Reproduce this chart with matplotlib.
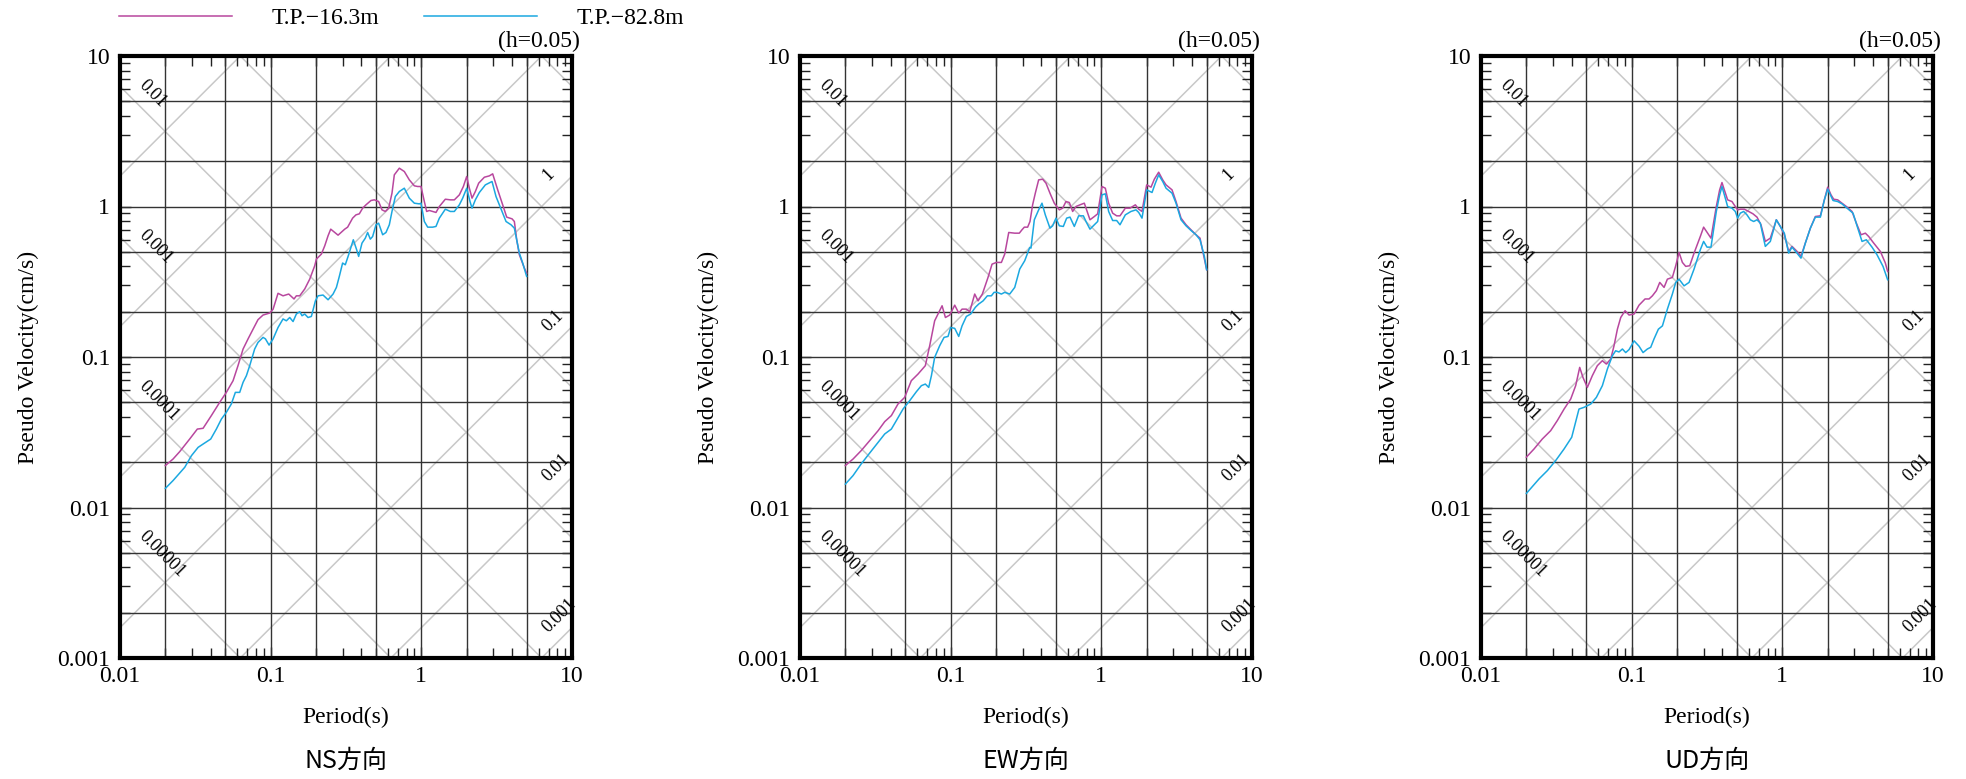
import numpy as np
import matplotlib
matplotlib.use("Agg")
import matplotlib.pyplot as plt
from matplotlib.ticker import FixedLocator, FixedFormatter, NullFormatter

SERIF = ["Liberation Serif", "DejaVu Serif"]
CJK = ["Noto Sans CJK JP", "DejaVu Sans"]

panel_titles = ["NS方向", "EW方向", "UD方向"]
series_labels = ["T.P.\u221216.3m", "T.P.\u221282.8m"]
series_colors = ["#b8479e", "#1ba8e0"]

x_ticks = [0.01, 0.1, 1, 10]
x_tick_labels = ["0.01", "0.1", "1", "10"]
y_ticks = [0.001, 0.01, 0.1, 1, 10]
y_tick_labels = ["0.001", "0.01", "0.1", "1", "10"]
grid_x = [0.02, 0.05, 0.1, 0.2, 0.5, 1, 2, 5]
grid_y = [0.002, 0.005, 0.01, 0.02, 0.05, 0.1, 0.2, 0.5, 1, 2, 5]
disp_levels = [1e-6, 1e-5, 1e-4, 1e-3, 1e-2, 1e-1, 1, 10]
disp_labels = ["0.01", "0.001", "0.0001", "0.00001"]
disp_label_levels = [1e-2, 1e-3, 1e-4, 1e-5]
acc_levels = [1e-4, 1e-3, 1e-2, 1e-1, 1, 10, 100, 1000]
acc_labels = ["1", "0.1", "0.01", "0.001"]
acc_label_levels = [1, 0.1, 0.01, 0.001]

# ---- NS ----
ns_t_16 = [0.020, 0.0225, 0.0249, 0.0290, 0.0326, 0.0356, 0.0404, 0.0459, 0.0508, 0.0563,
           0.0607, 0.0656, 0.0708, 0.0764, 0.0824, 0.0890, 0.0986, 0.1038, 0.1119, 0.1208,
           0.1318, 0.1429, 0.1481, 0.1559, 0.1683, 0.1816, 0.1961, 0.2011, 0.2171, 0.2285,
           0.2404, 0.2504, 0.2801, 0.3101, 0.3242, 0.3499, 0.3683, 0.3876, 0.4078, 0.4292,
           0.4631, 0.4873, 0.5207, 0.5481, 0.5768, 0.6068, 0.6386, 0.6617, 0.7144, 0.7710,
           0.8323, 0.8986, 0.9454, 0.9949, 1.047, 1.085, 1.130, 1.189, 1.251, 1.317,
           1.443, 1.557, 1.656, 1.788, 1.901, 2.0, 2.083, 2.170, 2.283, 2.402,
           2.620, 2.828, 2.975, 3.213, 3.467, 3.687, 4.0, 4.144, 4.296, 4.473,
           4.828, 5.0]
ns_v_16 = [0.0190, 0.0210, 0.0235, 0.0285, 0.0332, 0.0336, 0.0408, 0.0500, 0.0582, 0.0696,
           0.0876, 0.113, 0.132, 0.153, 0.177, 0.190, 0.196, 0.208, 0.265, 0.255,
           0.262, 0.243, 0.255, 0.255, 0.283, 0.329, 0.404, 0.447, 0.483, 0.548,
           0.639, 0.707, 0.645, 0.707, 0.729, 0.837, 0.880, 0.894, 0.975, 1.026,
           1.096, 1.107, 1.079, 0.950, 0.927, 0.975, 1.226, 1.623, 1.797, 1.708,
           1.503, 1.372, 1.358, 1.358, 1.079, 0.927, 0.941, 0.927, 0.913, 1.0,
           1.118, 1.107, 1.107, 1.195, 1.358, 1.582, 1.323, 1.136, 1.258, 1.429,
           1.565, 1.598, 1.648, 1.290, 1.026, 0.850, 0.828, 0.795, 0.601, 0.478,
           0.390, 0.361]
ns_t_82 = [0.020, 0.0225, 0.0269, 0.0298, 0.0330, 0.0356, 0.0400, 0.0436, 0.0471, 0.0508,
           0.0548, 0.0583, 0.0623, 0.0656, 0.0690, 0.0726, 0.0783, 0.0824, 0.0890, 0.0923,
           0.0976, 0.1038, 0.1119, 0.1208, 0.1271, 0.1338, 0.1408, 0.1481, 0.1559, 0.1615,
           0.1683, 0.1770, 0.1863, 0.1981, 0.2063, 0.2227, 0.2404, 0.2595, 0.2731,
           0.2855, 0.3003, 0.3128, 0.3292, 0.3536, 0.3721, 0.3837, 0.4038, 0.4247, 0.4402,
           0.4585, 0.4752, 0.5, 0.5207, 0.5538, 0.5825, 0.6131, 0.6386, 0.672, 0.7144,
           0.771, 0.8323, 0.8986, 0.9698, 0.995, 1.047, 1.102, 1.189, 1.251, 1.317,
           1.443, 1.557, 1.656, 1.788, 1.881, 2.0, 2.104, 2.17, 2.283, 2.427,
           2.66, 2.946, 3.131, 3.432, 3.649, 3.938, 4.144, 4.473, 4.708, 5.0]
ns_v_82 = [0.0134, 0.0151, 0.0185, 0.0221, 0.0251, 0.0264, 0.0285, 0.0332, 0.0387, 0.0429,
           0.0487, 0.0582, 0.0582, 0.0679, 0.0751, 0.0876, 0.113, 0.125, 0.135, 0.132,
           0.120, 0.132, 0.157, 0.179, 0.174, 0.183, 0.172, 0.193, 0.200, 0.188,
           0.193, 0.183, 0.186, 0.236, 0.255, 0.258, 0.240, 0.262, 0.290,
           0.343, 0.421, 0.410, 0.478, 0.601, 0.516, 0.466, 0.571, 0.616, 0.672,
           0.607, 0.632, 0.756, 0.775, 0.649, 0.672, 0.756, 0.927, 1.165, 1.258,
           1.323, 1.136, 1.052, 1.041, 1.052, 0.795, 0.729, 0.729, 0.737, 0.837,
           0.960, 0.927, 0.927, 1.026, 1.136, 1.323, 1.079, 0.975, 1.107, 1.239,
           1.392, 1.466, 1.165, 0.927, 0.795, 0.756, 0.718, 0.490, 0.421, 0.343]

# ---- EW ----
ew_t_16 = [0.020, 0.0225, 0.0255, 0.029, 0.0330, 0.0365, 0.0404, 0.0447, 0.0495, 0.0548,
           0.0607, 0.0679, 0.0726, 0.0783, 0.0824, 0.0877, 0.0923, 0.0986, 0.1064, 0.1131,
           0.119, 0.1271, 0.1338, 0.1444, 0.152, 0.1623, 0.177, 0.1882, 0.2011, 0.2171,
           0.2285, 0.2429, 0.2662,
           0.2855, 0.2973, 0.3083, 0.3242, 0.3361, 0.3499, 0.3646, 0.3837, 0.4078, 0.4292,
           0.4561, 0.4873, 0.5261, 0.5538, 0.5825, 0.6131, 0.6453, 0.679, 0.7217, 0.771,
           0.8407, 0.8986, 0.9454, 1.01, 1.063, 1.118, 1.189, 1.264, 1.33, 1.443,
           1.55, 1.682, 1.77, 1.862, 2.0, 2.137, 2.248, 2.402, 2.555, 2.688,
           2.946, 3.131, 3.38, 3.649, 3.938, 4.25, 4.519, 5.0]
ew_v_16 = [0.0190, 0.0210, 0.0239, 0.0278, 0.0324, 0.0372, 0.0408, 0.0487, 0.0539, 0.0696,
           0.0770, 0.0876, 0.119, 0.174, 0.193, 0.219, 0.183, 0.190, 0.221, 0.196,
           0.208, 0.208, 0.200, 0.262, 0.236, 0.262, 0.338, 0.414, 0.425, 0.425,
           0.483, 0.672, 0.665,
           0.665, 0.700, 0.729, 0.729, 0.795, 1.026, 1.226, 1.503, 1.519, 1.429,
           1.226, 1.052, 0.950, 0.975, 1.079, 1.063, 0.927, 1.0, 1.026, 1.052,
           0.816, 0.858, 0.894, 1.358, 1.323, 1.052, 0.903, 0.867, 0.867, 0.975,
           0.975, 1.026, 0.960, 0.927, 1.392, 1.344, 1.519, 1.690, 1.503, 1.392,
           1.290, 1.079, 0.837, 0.756, 0.700, 0.649, 0.616, 0.380]
ew_t_82 = [0.020, 0.0225, 0.0255, 0.029, 0.0330, 0.0365, 0.0404, 0.0436, 0.0483, 0.0535,
           0.0592, 0.0639, 0.0679, 0.0715, 0.0745, 0.0783, 0.0846, 0.0904, 0.0961, 0.1,
           0.1064, 0.1131, 0.119, 0.1271, 0.1358, 0.1459, 0.1536, 0.1641, 0.1752, 0.1863,
           0.1941, 0.2033, 0.2171, 0.2285, 0.2466, 0.2662, 0.2873, 0.31, 0.3348,
           0.3412, 0.3591, 0.3837, 0.4038, 0.4247, 0.4561, 0.4752, 0.5, 0.5261, 0.5594,
           0.5886, 0.6194, 0.6617, 0.7071, 0.7596, 0.791, 0.8407, 0.8986, 0.9454, 1.01,
           1.063, 1.118, 1.189, 1.264, 1.33, 1.443, 1.573, 1.699, 1.77, 1.862,
           2.0, 2.17, 2.283, 2.402, 2.555, 2.688, 2.946, 3.131, 3.38, 3.649,
           3.938, 4.25, 4.519, 4.828, 5.0]
ew_v_82 = [0.0143, 0.0163, 0.0195, 0.0230, 0.0271, 0.0308, 0.0332, 0.0378, 0.0451, 0.0513,
           0.0588, 0.0645, 0.0661, 0.0628, 0.0751, 0.0994, 0.119, 0.135, 0.137, 0.157,
           0.155, 0.137, 0.161, 0.186, 0.193, 0.214, 0.225, 0.236, 0.255, 0.255,
           0.269, 0.269, 0.262, 0.269, 0.262, 0.290, 0.384, 0.436, 0.534,
           0.529, 0.816, 0.950, 1.052, 0.880, 0.718, 0.744, 0.837, 0.744, 0.737,
           0.837, 0.850, 0.737, 0.867, 0.867, 0.795, 0.707, 0.756, 0.795, 1.195,
           1.214, 0.927, 0.807, 0.807, 0.756, 0.880, 0.927, 0.950, 0.913, 0.837,
           1.290, 1.239, 1.429, 1.623, 1.466, 1.323, 1.226, 1.052, 0.816, 0.744,
           0.693, 0.649, 0.601, 0.466, 0.380]

# ---- UD ----
ud_t_16 = [0.020, 0.0225, 0.0255, 0.029, 0.0321, 0.0356, 0.0394, 0.0425, 0.0452, 0.0475,
           0.0508, 0.0548, 0.0592, 0.0639, 0.0679, 0.0726, 0.0764, 0.0804, 0.0846, 0.0904,
           0.0961, 0.1038, 0.1119, 0.1227, 0.1304, 0.1373, 0.1459, 0.1536, 0.1641, 0.1726,
           0.1863, 0.1961, 0.2063, 0.2171, 0.2285, 0.2429, 0.2595,
           0.2855, 0.3003, 0.3193, 0.3361, 0.3646, 0.3837, 0.3976, 0.412, 0.4335, 0.4631,
           0.4873, 0.5051, 0.5261, 0.5594, 0.5977, 0.6386, 0.679, 0.7217, 0.771, 0.8323,
           0.8759, 0.9122, 0.9698, 1.031, 1.102, 1.159, 1.251, 1.33, 1.421, 1.535,
           1.656, 1.788, 1.901, 2.0, 2.104, 2.192, 2.33, 2.489, 2.66, 2.9,
           3.1, 3.33, 3.556, 3.743, 4.042, 4.473, 4.828, 5.0]
ud_v_16 = [0.0216, 0.0245, 0.0285, 0.0324, 0.0378, 0.0451, 0.0526, 0.0645, 0.0853, 0.0732,
           0.0628, 0.0751, 0.0876, 0.0945, 0.0898, 0.0969, 0.119, 0.153, 0.183, 0.203,
           0.190, 0.193, 0.221, 0.243, 0.243, 0.255, 0.276, 0.313, 0.290, 0.329,
           0.338, 0.404, 0.495, 0.425, 0.400, 0.404, 0.490,
           0.632, 0.729, 0.665, 0.616, 1.0, 1.29, 1.443, 1.29, 1.107, 1.079,
           1.0, 0.950, 0.960, 0.960, 0.927, 0.894, 0.850, 0.756, 0.586, 0.616,
           0.718, 0.816, 0.737, 0.649, 0.503, 0.543, 0.503, 0.466, 0.571, 0.718,
           0.858, 0.867, 1.107, 1.344, 1.195, 1.118, 1.107, 1.052, 1.0, 0.927,
           0.775, 0.649, 0.665, 0.632, 0.571, 0.503, 0.421, 0.370]
ud_t_82 = [0.020, 0.0214, 0.0243, 0.0276, 0.0313, 0.0356, 0.040, 0.0447, 0.0483, 0.0535,
           0.0583, 0.0639, 0.069, 0.0745, 0.0783, 0.0824, 0.0868, 0.0913, 0.0961, 0.1038,
           0.1119, 0.119, 0.1271, 0.1338, 0.1408, 0.1504, 0.16, 0.1726, 0.1863, 0.1961,
           0.2063, 0.2227, 0.2404, 0.2595,
           0.2855, 0.3003, 0.3162, 0.3361, 0.3646, 0.3837, 0.3976, 0.4183, 0.4335, 0.4631,
           0.4873, 0.5051, 0.5261, 0.5538, 0.5825, 0.6131, 0.6453, 0.679, 0.7144, 0.771,
           0.8323, 0.9122, 0.9698, 1.031, 1.102, 1.159, 1.251, 1.33, 1.421, 1.535,
           1.656, 1.788, 1.901, 2.0, 2.17, 2.33, 2.489, 2.688, 2.946, 3.131,
           3.38, 3.611, 3.938, 4.25, 4.659, 5.0]
ud_v_82 = [0.0124, 0.0134, 0.0155, 0.0176, 0.0205, 0.0245, 0.0293, 0.0451, 0.0463, 0.0487,
           0.0539, 0.0645, 0.0832, 0.102, 0.110, 0.108, 0.113, 0.107, 0.112, 0.128,
           0.118, 0.107, 0.113, 0.116, 0.132, 0.153, 0.161, 0.208, 0.262, 0.313,
           0.329, 0.297, 0.313, 0.384,
           0.516, 0.586, 0.537, 0.537, 0.927, 1.195, 1.358, 1.136, 1.0, 0.975,
           0.927, 0.837, 0.903, 0.927, 0.880, 0.816, 0.795, 0.816, 0.775, 0.543,
           0.586, 0.816, 0.737, 0.665, 0.490, 0.537, 0.490, 0.454, 0.571, 0.718,
           0.850, 0.850, 1.107, 1.304, 1.096, 1.079, 1.041, 0.975, 0.903, 0.744,
           0.586, 0.601, 0.537, 0.478, 0.400, 0.326]

panels = [
    ((ns_t_16, ns_v_16), (ns_t_82, ns_v_82)),
    ((ew_t_16, ew_v_16), (ew_t_82, ew_v_82)),
    ((ud_t_16, ud_v_16), (ud_t_82, ud_v_82)),
]

W, H = 1966, 779
fig = plt.figure(figsize=(W / 100, H / 100), dpi=100)

ax_left_px = [120, 800, 1481]
ax_w_px, ax_top_px, ax_bot_px = 452, 56, 658

minor_vals = [k * 10.0 ** e for e in range(-3, 1) for k in range(2, 10)]

legend_handles = None
for i, (left_px, series) in enumerate(zip(ax_left_px, panels)):
    ax = fig.add_axes([left_px / W, 1 - ax_bot_px / H, ax_w_px / W, (ax_bot_px - ax_top_px) / H])
    ax.set_xscale("log")
    ax.set_yscale("log")
    ax.set_xlim(0.01, 10)
    ax.set_ylim(0.001, 10)

    # tripartite diagonal lines
    tt = np.array([0.01, 10.0])
    for d in disp_levels:
        ax.plot(tt, 2 * np.pi * d / tt, color="#c8c8c8", lw=1.1, zorder=1)
    for a in acc_levels:
        ax.plot(tt, a * tt / (2 * np.pi), color="#c8c8c8", lw=1.1, zorder=1)

    # grid
    for gx in grid_x:
        ax.axvline(gx, color="#333333", lw=1.0, zorder=2)
    for gy in grid_y:
        ax.axhline(gy, color="#333333", lw=1.0, zorder=2)

    # diagonal labels
    for lab, d in zip(disp_labels, disp_label_levels):
        t0 = 0.014
        v0 = 2 * np.pi * d / t0 * 10 ** 0.17
        ax.text(t0, v0, lab, rotation=-45, rotation_mode="anchor", ha="left", va="center",
                fontsize=13, family=SERIF, zorder=3)
    for lab, a in zip(acc_labels, acc_label_levels):
        t0 = 6.64
        v0 = a * t0 / (2 * np.pi) * 10 ** 0.165
        ax.text(t0, v0, lab, rotation=45, rotation_mode="anchor", ha="left", va="center",
                fontsize=13, family=SERIF, zorder=3)

    handles = []
    for (t, v), c, lab in zip(series, series_colors, series_labels):
        h, = ax.plot(t, v, color=c, lw=1.1, zorder=4, label=lab)
        handles.append(h)
    if legend_handles is None:
        legend_handles = handles

    ax.xaxis.set_major_locator(FixedLocator(x_ticks))
    ax.xaxis.set_major_formatter(FixedFormatter(x_tick_labels))
    ax.yaxis.set_major_locator(FixedLocator(y_ticks))
    ax.yaxis.set_major_formatter(FixedFormatter(y_tick_labels))
    ax.xaxis.set_minor_locator(FixedLocator(minor_vals))
    ax.yaxis.set_minor_locator(FixedLocator(minor_vals + [k * 10.0 for k in range(2, 10)]))
    ax.xaxis.set_minor_formatter(NullFormatter())
    ax.yaxis.set_minor_formatter(NullFormatter())
    ax.tick_params(which="both", direction="in", top=True, right=True, width=1.0,
                   color="#222222")
    ax.tick_params(which="major", length=8)
    ax.tick_params(which="minor", length=7)
    ax.tick_params(axis="y", which="major", pad=7, labelsize=17)
    ax.tick_params(axis="x", which="major", pad=6, labelsize=17)
    for lbl in ax.get_xticklabels() + ax.get_yticklabels():
        lbl.set_family(SERIF)
    for sp in ax.spines.values():
        sp.set_linewidth(3.0)
        sp.set_zorder(5)

    ax.text(1 + 8 / ax_w_px, 1 + 4 / 602, "(h=0.05)", transform=ax.transAxes,
            ha="right", va="bottom", fontsize=17, family=SERIF)

    cx = (left_px + ax_w_px / 2) / W
    fig.text(cx, 1 - 717 / H, "Period(s)", ha="center", va="center", fontsize=17, family=SERIF)
    fig.text(cx, 1 - 761 / H, panel_titles[i], ha="center", va="center", fontsize=18, family=CJK)
    fig.text((left_px - 92) / W, 1 - 357 / H, "Pseudo Velocity(cm/s)", rotation=90,
             ha="center", va="center", fontsize=17, family=SERIF)

fig.legend(legend_handles, series_labels, loc="center left",
           bbox_to_anchor=(119 / W, 1 - 18 / H), ncol=2, frameon=False,
           handlelength=4.8, handletextpad=1.65, columnspacing=1.9,
           borderpad=0, borderaxespad=0, prop={"family": SERIF, "size": 17})

fig.savefig("out.png", dpi=100)
